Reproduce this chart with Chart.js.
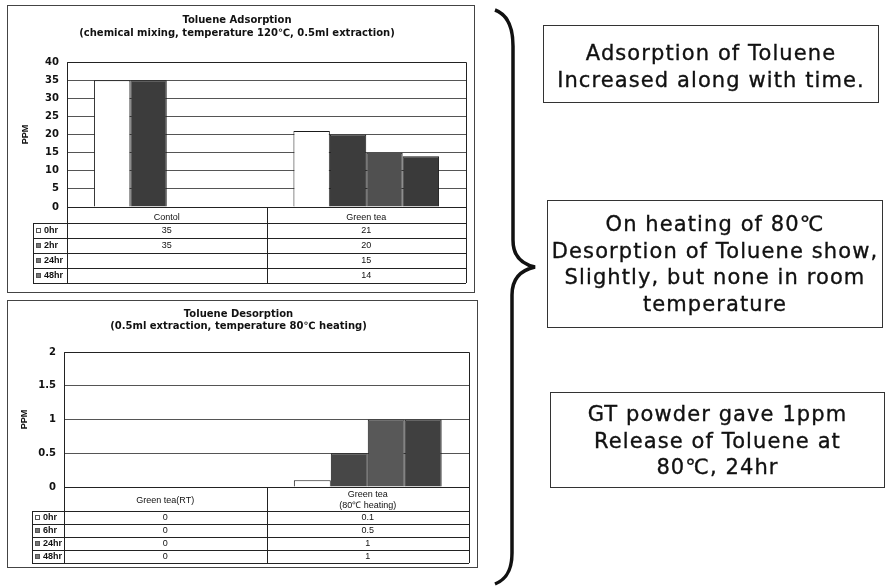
<!DOCTYPE html>
<html>
<head>
<meta charset="utf-8">
<script src="https://cdn.jsdelivr.net/npm/chart.js@4.4.1/dist/chart.umd.min.js"></script>
<style>
  body { margin: 0; background: #fff; width: 886px; height: 587px; position: relative; overflow: hidden; font-family: "DejaVu Sans", sans-serif; }
  .panel { position: absolute; border: 1px solid #444; background: #fff; }
  .panel canvas { display: block; }
  .note { position: absolute; box-sizing: border-box; border: 1.5px solid #333; text-align: center; font-size: 21px; line-height: 26.5px; letter-spacing: 1.1px; color: #111; -webkit-text-stroke: 0.35px #111; white-space: nowrap; }
  #brace { position: absolute; left: 0; top: 0; }
</style>
</head>
<body>

<div class="panel" style="left:7px; top:5px; width:466px; height:286px;">
  <canvas id="adsChart" width="466" height="286"></canvas>
</div>
<div class="panel" style="left:7px; top:300px; width:469px; height:266px;">
  <canvas id="desChart" width="469" height="266"></canvas>
</div>

<svg id="brace" width="886" height="587">
  <path d="M495,10 C506,14 513,26 513,46 L513,240 C513,256 521,264 535,267 C521,270 512,279 512,295 L512,553 C512,572 505,580 495,584"
        fill="none" stroke="#111" stroke-width="3.5"/>
</svg>

<div class="note" style="left:543px; top:25px; width:336px; height:78px; padding-top:14px;">Adsorption of Toluene<br>Increased along with time.</div>
<div class="note" style="left:547px; top:200px; width:336px; height:128px; padding-top:10px;">On heating of 80℃<br>Desorption of Toluene show,<br>Slightly, but none in room<br>temperature</div>
<div class="note" style="left:550px; top:392px; width:335px; height:96px; padding-top:8px;">GT powder gave 1ppm<br>Release of Toluene at<br>80℃, 24hr</div>

<script>
// Toluene adsorption (chemical mixing, 120C)
const adsCategories = ["Contol", "Green tea"];
const adsSeries = ["0hr", "2hr", "24hr", "48hr"];
const ads0hr = [35, 21];
const ads2hr = [35, 20];
const ads24hr = [null, 15];
const ads48hr = [null, 14];
const adsMax = 40;
const adsStep = 5;

// Toluene desorption (80C heating)
const desCategories = ["Green tea(RT)", ["Green tea", "(80℃ heating)"]];
const desSeries = ["0hr", "6hr", "24hr", "48hr"];
const des0hr = [0, 0.1];
const des6hr = [0, 0.5];
const des24hr = [0, 1];
const des48hr = [0, 1];
const desMax = 2;
const desStep = 0.5;

const FONT = "Liberation Sans";
const BOLD = "DejaVu Sans";

// draws the data table under the x axis, using the chart's own x scale
const tablePlugin = {
  id: "dataTable",
  afterDraw(chart, args, opts) {
    const ctx = chart.ctx;
    const a = chart.chartArea;
    const x = chart.scales.x;
    const sets = chart.data.datasets;
    const n = chart.data.labels.length;
    const headBottom = a.bottom + opts.header;
    const bottom = headBottom + opts.row * sets.length;
    const L = opts.legendLeft;
    const px = (v) => Math.round(v) + 0.5;

    ctx.save();
    ctx.strokeStyle = "#222";
    ctx.lineWidth = 1;
    ctx.beginPath();
    ctx.rect(px(a.left), px(a.top), Math.round(a.right - a.left), Math.round(a.bottom - a.top));
    const vx = [a.left, a.right];
    for (let j = 1; j < n; j++) vx.push(x.getPixelForValue(j - 0.5));
    vx.forEach((v) => {
      ctx.moveTo(px(v), a.bottom);
      ctx.lineTo(px(v), bottom);
    });
    ctx.moveTo(px(L), headBottom);
    ctx.lineTo(px(L), bottom);
    for (let i = 0; i <= sets.length; i++) {
      const yy = px(headBottom + i * opts.row);
      ctx.moveTo(L, yy);
      ctx.lineTo(a.right, yy);
    }
    ctx.stroke();

    ctx.textBaseline = "middle";
    sets.forEach((ds, i) => {
      const cy = headBottom + (i + 0.5) * opts.row;
      ctx.fillStyle = i === 0 ? "#fff" : "#777";
      ctx.fillRect(L + 3, Math.round(cy) - 3, 5, 5);
      ctx.strokeStyle = "#555";
      ctx.strokeRect(L + 3.5, Math.round(cy) - 2.5, 4, 4);
      ctx.fillStyle = "#111";
      ctx.font = "bold 9px " + FONT;
      ctx.textAlign = "left";
      ctx.fillText(ds.label, L + 11, cy + 0.5);
      ctx.font = "9px " + FONT;
      ctx.textAlign = "center";
      ds.data.forEach((v, j) => {
        if (v !== null) ctx.fillText(String(v), x.getPixelForValue(j), cy + 0.5);
      });
    });
    ctx.restore();
  }
};

function makeChart(id, o) {
  return new Chart(document.getElementById(id), {
    type: "bar",
    data: {
      labels: o.labels,
      datasets: o.series.map((name, i) => ({
        label: name,
        data: o.values[i],
        backgroundColor: o.colors[i],
        borderColor: "#1a1a1a",
        borderWidth: 1,
        categoryPercentage: 0.73,
        barPercentage: 1.0
      }))
    },
    options: {
      responsive: false,
      animation: false,
      devicePixelRatio: 1,
      layout: { padding: o.padding },
      plugins: {
        legend: { display: false },
        tooltip: { enabled: false },
        title: {
          display: true,
          text: o.title,
          color: "#111",
          font: { family: BOLD, size: 10, weight: "bold", lineHeight: o.titleLH },
          padding: o.titlePad
        },
        dataTable: { header: o.header, row: o.row, legendLeft: o.legendLeft }
      },
      scales: {
        x: {
          grid: { display: false, drawTicks: false },
          border: { display: false },
          ticks: {
            color: "#111",
            font: { family: FONT, size: 9, lineHeight: 1.15 },
            padding: o.xPad,
            crossAlign: o.crossAlign,
            maxRotation: 0,
            autoSkip: false
          },
          afterFit: (s) => { s.height = o.xHeight; }
        },
        y: {
          min: 0,
          max: o.yMax,
          ticks: {
            stepSize: o.yStep,
            color: "#111",
            font: { family: BOLD, size: 10, weight: "bold" },
            padding: 8,
            callback: (v) => String(Number(v))
          },
          grid: { color: "#555", drawTicks: false },
          border: { display: false },
          title: {
            display: true,
            text: "PPM",
            color: "#111",
            font: { family: FONT, size: 9, weight: "bold" },
            padding: { top: o.yTitlePad, bottom: 0 }
          },
          afterFit: (s) => { s.width = o.yWidth; }
        }
      }
    },
    plugins: [tablePlugin]
  });
}

makeChart("adsChart", {
  labels: adsCategories,
  series: adsSeries,
  values: [ads0hr, ads2hr, ads24hr, ads48hr],
  colors: ["#ffffff", "#3c3c3c", "#505050", "#3a3a3a"],
  title: ["Toluene Adsorption", "(chemical mixing, temperature 120℃, 0.5ml extraction)"],
  titleLH: 1.3,
  titlePad: { top: 8, bottom: 22 },
  padding: { top: 0, left: 0, right: 8, bottom: 10 },
  yMax: adsMax,
  yStep: adsStep,
  yWidth: 59,
  yTitlePad: 12,
  xHeight: 75,
  xPad: 5,
  crossAlign: "near",
  header: 16,
  row: 15,
  legendLeft: 25
});

makeChart("desChart", {
  labels: desCategories,
  series: desSeries,
  values: [des0hr, des6hr, des24hr, des48hr],
  colors: ["#ffffff", "#474747", "#585858", "#404040"],
  title: ["Toluene Desorption", "(0.5ml extraction, temperature 80℃ heating)"],
  titleLH: 1.2,
  titlePad: { top: 7, bottom: 20 },
  padding: { top: 0, left: 0, right: 8, bottom: 4 },
  yMax: desMax,
  yStep: desStep,
  yWidth: 56,
  yTitlePad: 11,
  xHeight: 76,
  xPad: 8,
  crossAlign: "center",
  header: 24,
  row: 13,
  legendLeft: 24
});
</script>
</body>
</html>
